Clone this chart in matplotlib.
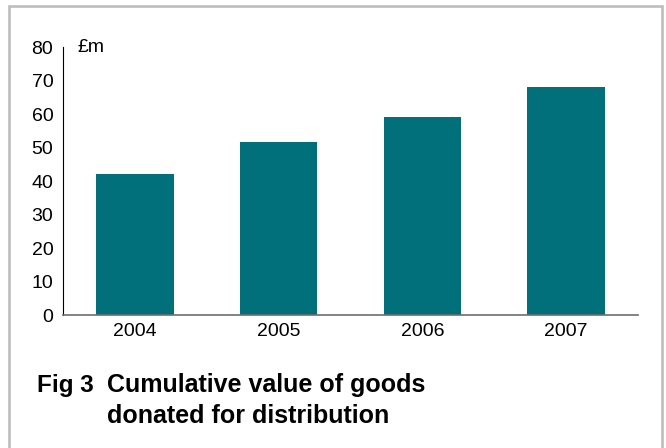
import matplotlib.pyplot as plt
from matplotlib.lines import Line2D

# Data
years = ['2004', '2005', '2006', '2007']
values = [42, 51.6, 59, 68]
yticks = [0, 10, 20, 30, 40, 50, 60, 70, 80]

plt.rcParams['font.family'] = ['Liberation Sans', 'DejaVu Sans']

W, H = 666, 448
fig = plt.figure(figsize=(W / 100, H / 100), dpi=100)
fig.patch.set_facecolor('white')

# Axes placed in pixel terms
ax = fig.add_axes([63 / W, (H - 315) / H, 575 / W, 268 / H])
x = range(len(years))
ax.bar(x, values, width=0.54, color='#02707b')

ax.set_xlim(-0.5, 3.5)
ax.set_ylim(0, 80)
ax.set_yticks(yticks)
ax.set_xticks(list(x))
ax.set_xticklabels(years)
ax.tick_params(axis='both', length=0, labelsize=14, colors='black')
ax.tick_params(axis='y', pad=7)
ax.tick_params(axis='x', pad=6)

for s in ['top', 'right']:
    ax.spines[s].set_visible(False)
ax.spines['left'].set_color('black')
ax.spines['left'].set_linewidth(0.8)
ax.spines['bottom'].set_color('#6e6e6e')
ax.spines['bottom'].set_linewidth(1.2)

ax.text(15 / 575, 1.0, '£m', transform=ax.transAxes, fontsize=14,
        va='center', ha='left')

# Caption
fig.text(37 / W, (H - 392) / H, 'Fig 3', fontsize=17.5, fontweight='bold',
         va='baseline', ha='left')
fig.text(107 / W, (H - 392) / H, 'Cumulative value of goods', fontsize=18,
         fontweight='bold', va='baseline', ha='left')
fig.text(107 / W, (H - 423) / H, 'donated for distribution', fontsize=18,
         fontweight='bold', va='baseline', ha='left')

# Grey frame (open at the bottom)
fx0, fx1, fy = 9 / W, 662 / W, 1 - 6 / H
fig.add_artist(Line2D([fx0, fx0, fx1, fx1], [0, fy, fy, 0],
                      transform=fig.transFigure, color='#bdbdbd',
                      linewidth=1.9, solid_joinstyle='miter'))

fig.savefig('out.png', dpi=100)
